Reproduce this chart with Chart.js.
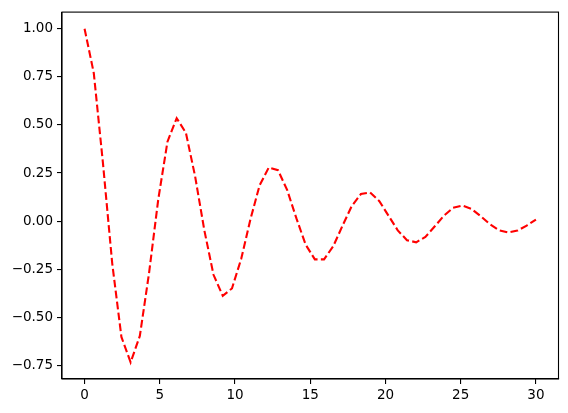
<!DOCTYPE html>
<html>
<head>
<meta charset="utf-8">
<script src="https://cdn.jsdelivr.net/npm/chart.js@4"></script>
<style>
  html, body { margin: 0; padding: 0; background: #fff; }
  #chart { display: block; }
</style>
</head>
<body>
<canvas id="chart" width="568" height="413"></canvas>
<script>
// sample positions (t) and the damped signal
const tValues = [0.000, 0.612, 1.224, 1.837, 2.449, 3.061, 3.673, 4.286, 4.898, 5.510,
    6.122, 6.735, 7.347, 7.959, 8.571, 9.184, 9.796, 10.408, 11.020, 11.633,
    12.245, 12.857, 13.469, 14.082, 14.694, 15.306, 15.918, 16.531, 17.143, 17.755,
    18.367, 18.980, 19.592, 20.204, 20.816, 21.429, 22.041, 22.653, 23.265, 23.878,
    24.490, 25.102, 25.714, 26.327, 26.939, 27.551, 28.163, 28.776, 29.388, 30.000]
const signalValues = [1.000, 0.770, 0.300, -0.219, -0.602, -0.734, -0.597, -0.270, 0.113, 0.413,
    0.535, 0.459, 0.233, -0.047, -0.279, -0.388, -0.350, -0.197, 0.008, 0.186,
    0.279, 0.265, 0.161, 0.014, -0.122, -0.199, -0.199, -0.130, -0.024, 0.078,
    0.141, 0.149, 0.104, 0.028, -0.048, -0.099, -0.110, -0.082, -0.028, 0.028,
    0.069, 0.081, 0.064, 0.026, -0.016, -0.048, -0.059, -0.049, -0.023, 0.008]
const xTicks = [0, 5, 10, 15, 20, 25, 30]
const yTicks = [-0.75, -0.5, -0.25, 0, 0.25, 0.5, 0.75, 1.0]

const ctx = document.getElementById('chart')
const font = { family: 'DejaVu Sans', size: 13.5 }

const frame = {
    id: 'frame',
    afterDraw(chart) {
        const a = chart.chartArea
        const c = chart.ctx
        c.save()
        c.strokeStyle = '#000'
        c.lineWidth = 1.1
        c.strokeRect(a.left, a.top, a.right - a.left, a.bottom - a.top)
        c.restore()
    }
}

new Chart(ctx, {
    type: 'line',
    data: {
        datasets: [{
            data: tValues.map((t, i) => ({ x: t, y: signalValues[i] })),
            borderColor: '#ff0000',
            borderWidth: 2.1,
            borderDash: [7.7, 3.3],
            pointRadius: 0,
            tension: 0,
            fill: false
        }]
    },
    options: {
        responsive: false,
        animation: false,
        layout: { padding: { top: 10, right: 9.5, left: 0, bottom: 0 } },
        plugins: { legend: { display: false }, tooltip: { enabled: false } },
        scales: {
            x: {
                type: 'linear',
                min: -1.5,
                max: 31.5,
                afterBuildTicks: s => { s.ticks = xTicks.map(v => ({ value: v })) },
                afterFit: s => { s.height = 34 },
                ticks: { color: '#000', font, padding: 3, maxRotation: 0, callback: v => String(v) },
                grid: { drawOnChartArea: false, drawTicks: true, tickLength: 5, color: '#000', lineWidth: 1.1 },
                border: { color: '#000', width: 1.1 }
            },
            y: {
                type: 'linear',
                min: -0.8207,
                max: 1.0867,
                afterBuildTicks: s => { s.ticks = yTicks.map(v => ({ value: v })) },
                afterFit: s => { s.width = 62 },
                ticks: {
                    color: '#000', font, padding: 4,
                    callback: v => v.toFixed(2).replace('-', '\u2212')
                },
                grid: { drawOnChartArea: false, drawTicks: true, tickLength: 5, color: '#000', lineWidth: 1.1 },
                border: { color: '#000', width: 1.1 }
            }
        }
    },
    plugins: [frame]
})
</script>
</body>
</html>
